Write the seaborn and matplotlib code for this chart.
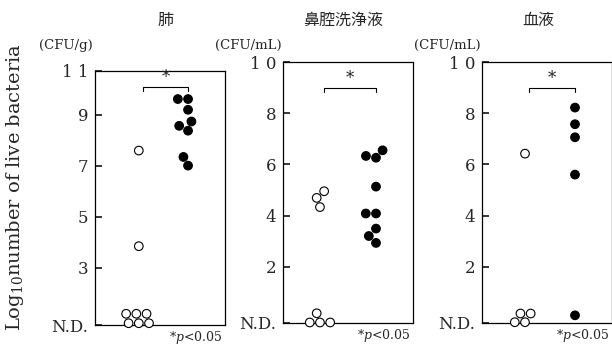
import numpy as np
import pandas as pd
import matplotlib
matplotlib.use('Agg')
import matplotlib.pyplot as plt
import seaborn as sns
import warnings as wr
wr.filterwarnings('ignore')

# values (log10 CFU), N.D. points sit near the bottom of each axis
lung_ctrl = [7.6, 3.85, 1.2, 1.2, 1.2, 0.83, 0.83, 0.83]
lung_trt = [9.62, 9.62, 9.2, 8.74, 8.57, 8.38, 7.35, 7.01]
nasal_ctrl = [4.95, 4.69, 4.33, 0.18, -0.18, -0.18, -0.18]
nasal_trt = [6.55, 6.33, 6.26, 5.13, 4.08, 4.08, 3.49, 3.2, 2.93]
blood_ctrl = [6.42, 0.17, 0.17, -0.17, -0.17]
blood_trt = [8.22, 7.57, 7.06, 5.6, 0.1]

titles = ['肺', '鼻腔洗浄液', '血液']
title_x = [165, 343, 538]
units = ['(CFU/g)', '(CFU/mL)', '(CFU/mL)']
lung_ticks = [0.76, 3, 5, 7, 9, 10.72]
lung_labels = ['N.D.', '3', '5', '7', '9', '1 1']
ml_ticks = [-0.2, 2, 4, 6, 8, 10]
ml_labels = ['N.D.', '2', '4', '6', '8', '1 0']

panels = [
    (lung_ctrl, lung_trt, lung_ticks, lung_labels, (-0.89, 1.75), 10.1),
    (nasal_ctrl, nasal_trt, ml_ticks, ml_labels, (-0.66, 1.66), 9.0),
    (blood_ctrl, blood_trt, ml_ticks, ml_labels, (-0.86, 1.74), 9.0),
]

sns.set_style("white")
plt.rcParams['font.family'] = ['DejaVu Serif', 'Noto Sans CJK JP']
plt.rcParams['mathtext.fontset'] = 'dejavuserif'

fig = plt.figure(figsize=(6.12, 3.47), dpi=100)
# axes boxes in figure fractions (left, bottom, width, height)
boxes = [[0.1552, 0.0634, 0.2124, 0.732],
         [0.4624, 0.0692, 0.2124, 0.752],
         [0.7876, 0.0692, 0.2124, 0.752]]

for i, (ctrl, trt, ticks, labels, xl, brk) in enumerate(panels):
    ax = fig.add_axes(boxes[i])
    df = pd.DataFrame({'value': ctrl + trt,
                       'group': ['ctrl'] * len(ctrl) + ['trt'] * len(trt)})
    sns.swarmplot(data=df, x='group', y='value', hue='group', order=['ctrl', 'trt'],
                  palette={'ctrl': 'white', 'trt': 'black'}, edgecolor='black',
                  linewidth=0.8, size=6.2, legend=False, ax=ax, clip_on=False)
    ax.set_xlim(xl)
    ax.set_ylim(ticks[0], ticks[-1])
    ax.set_xticks([])
    ax.set_yticks(ticks)
    ax.set_yticklabels(labels, fontsize=12)
    ax.tick_params(axis='y', direction='in', length=5, width=1.3, pad=5, left=True)
    ax.set_xlabel('')
    ax.set_ylabel('')
    for sp in ax.spines.values():
        sp.set_visible(True)
        sp.set_color('black')
        sp.set_linewidth(0.9)

    # significance bracket
    x0, x1 = 0.08, 1.0
    ax.plot([x0, x0, x1, x1], [brk - 0.18, brk, brk, brk - 0.18], color='black', lw=0.8)
    ax.text((x0 + x1) / 2, brk + 0.02, '*', ha='center', va='bottom', fontsize=12)

    ax.annotate('*$p$<0.05', xy=(1, 0), xycoords='axes fraction', xytext=(-2, -9),
                textcoords='offset points', ha='right', va='center', fontsize=9)

    # unit above the axis, title on top
    fig.text(boxes[i][0] - 0.003, 1 - 45 / 347, units[i], ha='right', va='center', fontsize=9.5)
    fig.text(title_x[i] / 612, 1 - 20 / 347, titles[i], ha='center', va='center',
             fontsize=11.5, family=['Noto Sans CJK JP', 'DejaVu Sans'])

fig.text(0.025, 0.461, 'Log$_{10}$number of live bacteria', rotation=90,
         ha='center', va='center', fontsize=14)

plt.savefig('out.png', dpi=100)
